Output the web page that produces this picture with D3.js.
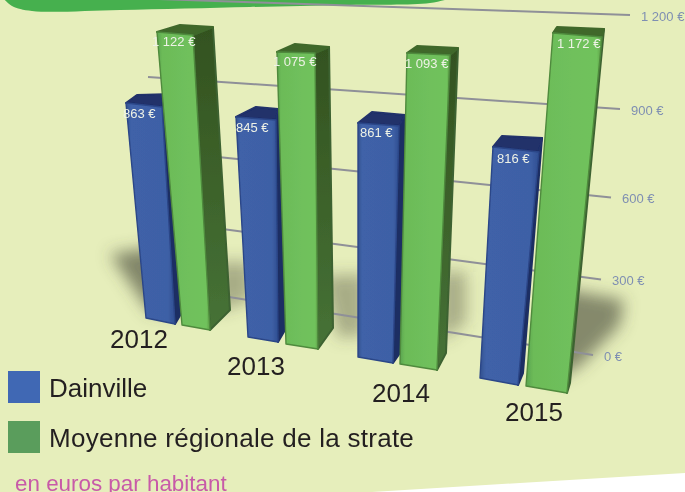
<!DOCTYPE html>
<html><head><meta charset="utf-8">
<script src="https://cdn.jsdelivr.net/npm/d3@7"></script>
<style>html,body{margin:0;padding:0;background:#fff;overflow:hidden}svg{display:block}text{font-family:"Liberation Sans",Arial,sans-serif}</style>
</head><body><svg id="c" width="685" height="492"></svg>
<script>
// ---- data ----
const years = ["2012","2013","2014","2015"];
const dainville = [863,845,861,816];
const moyenne = [1122,1075,1093,1172];
const ticks = [0,300,600,900,1200];
const seriesNames = ["Dainville","Moyenne régionale de la strate"];
const unitNote = "en euros par habitant";
const fr = v => d3.format(",")(v).replace(/,/g," ") + " €";

// ---- perspective layout: corners [front-left, front-right, back-right, back-left] at value 0 and value 1000 ----
const REF = 1000;
const frames = [
 {base:[[146,318],[175,324],[182,312],[155,305]], top:[[122.8,68.9],[160,72.6],[162,59.7],[134.1,61.7]]},
 {base:[[182,325],[210,330],[230,310],[205,305]], top:[[159.7,63.9],[194.8,67.1],[214.8,57.8],[182.7,55.4]]},
 {base:[[248,337],[278,342],[285,330],[258,326]], top:[[233.8,76.6],[275.6,79.3],[276.7,68.5],[255.6,66.8]]},
 {base:[[286,344],[318,349],[333,328],[301,323]], top:[[277.6,72.4],[315.2,73.7],[329.3,66.6],[295.4,63.5]]},
 {base:[[358,357],[393,363],[400,353],[368,347]], top:[[358,85.2],[400,87.7],[405.8,76.6],[372.6,74.1]]},
 {base:[[400,364],[437,370],[446,353],[412,348]], top:[[406.4,79.5],[448.9,81.8],[457,74],[416.6,71.7]]},
 {base:[[480,378],[518,385],[523,373],[488,367]], top:[[495.9,94.9],[543.7,99.5],[546.3,85],[505.2,83.9]]},
 {base:[[526,386],[567,393],[570,383],[532,376]], top:[[549,84.8],[596.9,89.3],[599,81],[553.3,78.2]]}
];
const labelPos = [[123,118],[152,46],[236,132],[273,66],[360,137],[405,68],[497,163],[557,48]];
const yearPos = [[110,348],[227,375],[372,402],[505,421]];
const gridLeft = [[160,286],[155,220],[150,150],[148,77],[158,-1]];
const gridRight = [[593,355],[601,279.5],[611,197.6],[620,109],[630,15]];
const shadowShapes = [
 [[110,254],[180,244],[180,312],[150,312]],
 [[215,262],[252,262],[252,300],[215,312]],
 [[322,276],[365,274],[365,335],[338,338]],
 [[440,272],[466,272],[466,322],[440,342]],
 [[560,288],[624,300],[620,325],[580,366],[555,380]]
];
const shadowOpacity = [0.68,0.42,0.42,0.42,0.66];

const svg = d3.select("#c");
const defs = svg.append("defs");
const blur = (id,s)=>defs.append("filter").attr("id",id).attr("x","-50%").attr("y","-50%").attr("width","200%").attr("height","200%")
  .append("feGaussianBlur").attr("stdDeviation",s);
blur("bS",8); blur("b03",0.35);
function grad(id,stops,x2=1,y2=0){
  const g=defs.append("linearGradient").attr("id",id).attr("x1",0).attr("y1",0).attr("x2",x2).attr("y2",y2);
  stops.forEach(([o,c])=>g.append("stop").attr("offset",o).attr("stop-color",c));
}
grad("gF",[[0,"#5aa44f"],[0.1,"#6cbb58"],[0.6,"#6fc05c"],[0.93,"#70c25c"],[1,"#5f9e48"]]);
grad("gS",[[0,"#33521f"],[1,"#467236"]],0,1);
grad("bF",[[0,"#33528f"],[0.1,"#3f62a8"],[0.85,"#3e60a6"],[1,"#304f92"]]);

// background
svg.append("rect").attr("width",685).attr("height",492).attr("fill","#e6eebb");
const line = d3.line();
const smooth = d3.line().curve(d3.curveCatmullRom.alpha(0.5));
svg.append("path").attr("d",line([[372,492],[520,483],[685,473],[685,492]])+"Z").attr("fill","#fff");
svg.append("path").attr("d",smooth([[3,-2],[12,6],[32,11],[120,10],[250,7],[345,5],[430,3],[452,-2]])+"Z").attr("fill","#46b04e");

// floor shadows
svg.append("g").attr("filter","url(#bS)").attr("fill","#50543f")
  .selectAll("path").data(shadowShapes).join("path").attr("d",d=>line(d)+"Z").attr("opacity",(d,i)=>shadowOpacity[i]);

// gridlines
const leftX = d3.scaleLinear().domain(ticks).range(gridLeft.map(d=>d[0]));
const leftY = d3.scaleLinear().domain(ticks).range(gridLeft.map(d=>d[1]));
const rightX = d3.scaleLinear().domain(ticks).range(gridRight.map(d=>d[0]));
const rightY = d3.scaleLinear().domain(ticks).range(gridRight.map(d=>d[1]));
svg.append("g").selectAll("line").data(ticks).join("line")
  .attr("x1",leftX).attr("y1",leftY).attr("x2",rightX).attr("y2",rightY)
  .attr("stroke","#8f9098").attr("stroke-width",2).attr("filter","url(#b03)");
svg.append("g").selectAll("text").data(ticks).join("text")
  .attr("x",d=>rightX(d)+11).attr("y",d=>rightY(d)+5.5)
  .attr("font-size",13).attr("fill","#7f8fb2").text(fr);

// bars
const barValues = years.flatMap((y,i)=>[dainville[i],moyenne[i]]);
const pos = f => f.base.map((b,k)=>d3.scaleLinear().domain([0,REF]).range([b,f.top[k]]));
function bar(i){
  const f = frames[i], v = barValues[i], blue = i%2===0;
  const s = pos(f), T = s.map(q=>q(v)), B = f.base;
  const g = svg.append("g").attr("filter","url(#b03)");
  const sideFill = blue?"#1d2e63":"url(#gS)";
  const sideStroke = blue?"#1d2e63":"#3d6230";
  const topFill = blue?"#20306a":"#3f682c";
  const face = (pts,fill,stroke,w)=>g.append("path").attr("d",line(pts)+"Z").attr("fill",fill).attr("stroke",stroke).attr("stroke-width",w).attr("stroke-linejoin","round");
  face([T[1],T[2],B[2],B[1]],sideFill,sideStroke,2);
  face([T[0],T[1],T[2],T[3]],topFill,topFill,2);
  face([T[0],T[1],B[1],B[0]],blue?"url(#bF)":"url(#gF)",blue?"#2c4688":"#4f8a3d",1.4);
}
d3.range(frames.length).forEach(bar);

// value labels
svg.append("g").attr("filter","url(#b03)").selectAll("text").data(barValues).join("text")
  .attr("x",(d,i)=>labelPos[i][0]).attr("y",(d,i)=>labelPos[i][1])
  .attr("font-size",13).attr("fill","#eef2e6").text(fr);

// year labels
svg.append("g").selectAll("text").data(years).join("text")
  .attr("x",(d,i)=>yearPos[i][0]).attr("y",(d,i)=>yearPos[i][1])
  .attr("font-size",26).attr("fill","#231f20").text(d=>d);

// legend
const lg = svg.append("g");
const colors = ["#4068b4","#5a9d5c"];
const legendY = d3.scalePoint().domain(seriesNames).range([371,421]);
lg.selectAll("rect").data(seriesNames).join("rect")
  .attr("x",8).attr("y",d=>legendY(d)).attr("width",32).attr("height",32).attr("fill",(d,i)=>colors[i]);
lg.selectAll("text").data(seriesNames).join("text")
  .attr("x",49).attr("y",d=>legendY(d)+26).attr("font-size",26).attr("letter-spacing",(d,i)=>i?0.27:0).attr("fill","#231f20").text(d=>d);
svg.append("text").attr("x",15).attr("y",491).attr("font-size",22.4).attr("fill","#c85aa8").text(unitNote);
</script></body></html>
